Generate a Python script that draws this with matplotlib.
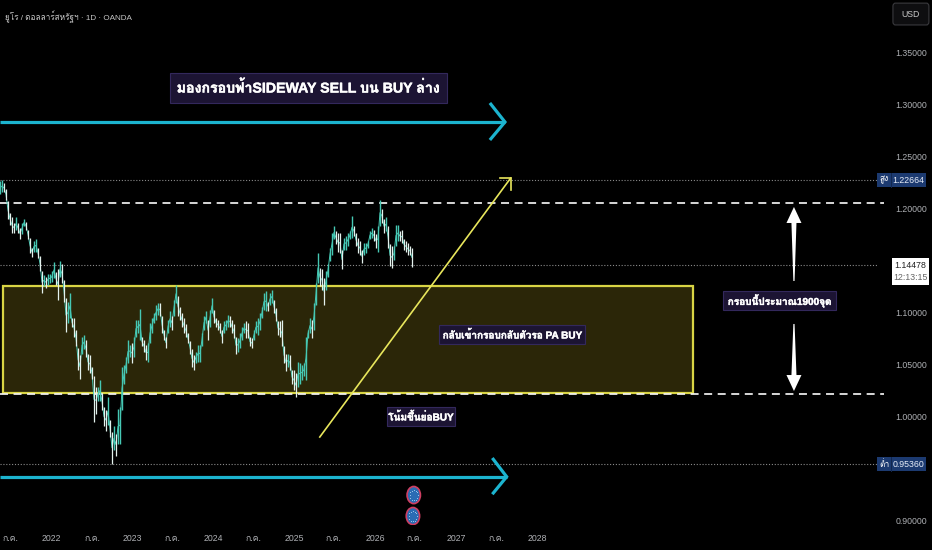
import numpy as np
import matplotlib
matplotlib.use("Agg")
import matplotlib.pyplot as plt
import matplotlib.font_manager as fm
import matplotlib.patheffects as pe
from matplotlib.patches import Rectangle, Ellipse, Polygon, FancyBboxPatch

# ---------- find Thai capable fonts ----------
thai_fonts = []
for f in fm.fontManager.ttflist:
    try:
        if 0x0E01 in fm.get_font(f.fname).get_charmap() and f.name not in thai_fonts:
            thai_fonts.append(f.name)
    except Exception:
        pass
NARROW = ["Liberation Sans"] + thai_fonts + ["DejaVu Sans"]
LABEL = ["Liberation Sans"] + thai_fonts + ["DejaVu Sans"]

# ---------- data ----------
start_year = 2021.362
bar_step = 0.02469
lows = [1.213,1.215,1.215,1.208,1.189,1.184,1.176,1.176,1.179,1.176,1.170,1.175,1.183,1.179,1.170,1.157,1.153,1.158,1.158,1.152,
1.139,1.118,1.125,1.123,1.126,1.128,1.129,1.133,1.126,1.112,1.134,1.128,1.110,1.081,1.089,1.094,1.086,1.076,1.067,1.044,
1.036,1.060,1.064,1.057,1.044,1.041,1.036,0.994,1.002,1.014,1.014,1.006,0.990,0.986,0.991,0.980,0.954,0.967,0.962,0.973,
0.973,1.006,1.031,1.041,1.051,1.057,1.051,1.057,1.076,1.080,1.073,1.067,1.062,1.054,1.052,1.070,1.080,1.089,1.092,1.097,
1.096,1.080,1.073,1.065,1.080,1.086,1.083,1.096,1.109,1.096,1.092,1.086,1.080,1.076,1.070,1.060,1.047,1.044,1.051,1.052,
1.052,1.067,1.083,1.089,1.073,1.086,1.099,1.089,1.086,1.083,1.080,1.070,1.080,1.083,1.086,1.086,1.080,1.075,1.060,1.062,
1.065,1.073,1.080,1.075,1.075,1.067,1.065,1.073,1.080,1.078,1.083,1.094,1.102,1.101,1.101,1.107,1.109,1.099,1.091,1.078,
1.076,1.067,1.051,1.043,1.047,1.044,1.031,1.025,1.018,1.028,1.031,1.035,1.038,1.035,1.075,1.080,1.075,1.083,1.107,1.128,
1.125,1.121,1.107,1.121,1.134,1.149,1.155,1.170,1.165,1.158,1.157,1.141,1.160,1.160,1.163,1.170,1.171,1.173,1.163,1.157,
1.155,1.147,1.155,1.157,1.162,1.170,1.171,1.168,1.162,1.158,1.183,1.186,1.176,1.178,1.162,1.144,1.142,1.150,1.163,1.168,
1.168,1.166,1.160,1.158,1.155,1.155,1.143]
highs = [1.226,1.227,1.224,1.218,1.207,1.195,1.191,1.186,1.191,1.186,1.181,1.186,1.189,1.187,1.179,1.171,1.162,1.168,1.170,1.162,
1.154,1.139,1.136,1.134,1.137,1.137,1.139,1.148,1.138,1.141,1.149,1.146,1.131,1.113,1.110,1.118,1.094,1.094,1.083,1.065,
1.059,1.076,1.078,1.073,1.060,1.059,1.047,1.038,1.028,1.028,1.035,1.022,1.009,1.006,1.018,0.996,0.985,0.990,0.983,1.007,
1.009,1.047,1.049,1.057,1.073,1.068,1.070,1.076,1.092,1.092,1.103,1.076,1.073,1.068,1.070,1.089,1.094,1.099,1.107,1.109,
1.109,1.096,1.083,1.076,1.092,1.101,1.096,1.112,1.126,1.115,1.105,1.099,1.094,1.088,1.080,1.072,1.064,1.059,1.062,1.068,
1.068,1.080,1.096,1.101,1.092,1.102,1.113,1.102,1.094,1.092,1.089,1.083,1.091,1.092,1.097,1.096,1.092,1.088,1.076,1.075,
1.080,1.086,1.089,1.091,1.089,1.076,1.075,1.083,1.091,1.094,1.099,1.105,1.118,1.120,1.110,1.118,1.121,1.112,1.104,1.091,
1.091,1.092,1.067,1.060,1.060,1.059,1.044,1.044,1.041,1.052,1.051,1.049,1.051,1.076,1.083,1.094,1.092,1.109,1.128,1.157,
1.142,1.141,1.133,1.139,1.146,1.162,1.176,1.183,1.178,1.176,1.176,1.160,1.171,1.173,1.176,1.178,1.192,1.183,1.176,1.171,
1.168,1.160,1.166,1.166,1.168,1.178,1.181,1.179,1.175,1.183,1.208,1.199,1.189,1.191,1.183,1.165,1.163,1.163,1.184,1.184,
1.178,1.179,1.170,1.168,1.166,1.163,1.162]
assert len(lows) == len(highs), (len(lows), len(highs))

price_ticks = [0.90, 1.00, 1.05, 1.10, 1.15, 1.20, 1.25, 1.30, 1.35]
year_ticks = [2022, 2023, 2024, 2025, 2026, 2027, 2028]
july_ticks = [2021.49, 2022.50, 2023.49, 2024.49, 2025.48, 2026.48, 2027.49]
YEAR_LABELS = ["2022", "2023", "2024", "2025", "2026", "2027", "2028"]
JULY_LABEL = "ก.ค."

high_price = 1.22664
low_price = 0.95360
last_price = 1.14478
countdown = "12:13:15"
upper_dash = 1.2048
lower_dash = 1.0208
zone_x = [2021.399, 2029.917]
zone_y = [1.0221, 1.1250]
x_left, x_right = 2021.362, 2032.288
dash_end = 2032.276
dot_end = 2032.19

cyan_top_y, cyan_bot_y = 1.2827, 0.9416
cyan_top_end, cyan_bot_end = 2027.596, 2027.617
cyan_top_wing = (2027.41, 1.3010, 1.2654)
cyan_bot_wing = (2027.44, 0.9596, 0.9248)
yellow_x = [2025.31, 2027.667]
yellow_y = [0.9798, 1.2288]
yellow_wing_x = [2027.534, 2027.667, 2027.667]
yellow_wing_y = [1.2288, 1.2288, 1.2173]
white_x = 2031.164
up_arrow = (1.2010, 1.1856, 1.1298)
down_arrow = (1.0885, 1.0394, 1.0240)

event_x = [2026.47, 2026.46]
event_y = [0.9240, 0.9038]

texts = [
    ("มองกรอบฟ้าSIDEWAY SELL บน BUY ล่าง", 2023.460, 2026.880, 1.3010, 1.3298, 10.2),
    ("กลับเข้ากรอบกลับตัวรอ PA BUY", 2026.781, 2028.584, 1.0692, 1.0875, 7.2),
    ("โน้มขึ้นย่อBUY", 2026.140, 2026.979, 0.9904, 1.0087, 7.2),
    ("กรอบนี้ประมาณ1900จุด", 2030.287, 2031.682, 1.1019, 1.1202, 7.2),
]

TICK_FS = 6.3

# ---------- figure ----------
fig = plt.figure(figsize=(9.32, 5.5), dpi=100, facecolor="black")
ax = fig.add_axes([0, 25 / 550, 885 / 932, 525 / 550], facecolor="black")
ax.set_xlim(x_left, x_right)
ax.set_ylim(0.8952, 1.4)
for s in ax.spines.values():
    s.set_visible(False)

ax.yaxis.tick_right()
ax.set_yticks(price_ticks, [f"{p:.5f}" for p in price_ticks], family=NARROW, fontsize=TICK_FS, color="#aeb0b4")
ax.set_xticks(year_ticks + july_ticks, YEAR_LABELS + [JULY_LABEL] * len(july_ticks),
              family=NARROW, fontsize=TICK_FS, color="#aeb0b4")
ax.tick_params(axis="both", length=0)
ax.tick_params(axis="y", pad=7.6)
ax.tick_params(axis="x", pad=6.5)

# zone
ax.add_patch(Rectangle((zone_x[0], zone_y[0]), zone_x[1] - zone_x[0], zone_y[1] - zone_y[0],
                       facecolor="#2b2608", edgecolor="#d8d444", lw=1.6, zorder=1))
# reference lines
for p in (high_price, last_price, low_price):
    ax.plot([x_left, dot_end], [p, p], color="#8a8a8a", lw=0.8, ls=(0, (1, 1.6)), zorder=1.2)
for p in (upper_dash, lower_dash):
    ax.plot([x_left, dash_end], [p, p], color="#f2f2f2", lw=1.25, ls=(0, (4.6, 3.2)), zorder=1.5)

# price bars
bx = start_year + bar_step * np.arange(len(lows))
lo = np.array(lows)
hi = np.array(highs)
mid = (lo + hi) / 2
up = np.r_[True, mid[1:] >= mid[:-1]]
ax.plot(bx, mid, color="#46c8b4", lw=0.7, zorder=2.9)
ax.vlines(bx[up], lo[up], hi[up], color="#46c8b4", lw=1.0, zorder=3)
ax.vlines(bx[~up], lo[~up], hi[~up], color="#e4f2ee", lw=0.9, zorder=3)

# arrows
CY = "#1cb4cf"
for y, end, wing in ((cyan_top_y, cyan_top_end, cyan_top_wing), (cyan_bot_y, cyan_bot_end, cyan_bot_wing)):
    ax.plot([x_left, end], [y, y], color=CY, lw=2.3, zorder=4, solid_capstyle="butt")
    ax.plot([wing[0], end, wing[0]], [wing[1], y, wing[2]], color=CY, lw=2.3, zorder=4,
            solid_joinstyle="miter", solid_capstyle="butt")
ax.plot(yellow_x, yellow_y, color="#e8e65c", lw=1.2, zorder=4)
ax.plot(yellow_wing_x, yellow_wing_y, color="#e8e65c", lw=1.2, zorder=4, solid_joinstyle="miter")

head_half, neck_half, tail_half = 0.0926, 0.031, 0.0075
for tip, head, tail in (up_arrow, down_arrow[::-1]):
    ax.add_patch(Polygon([(white_x, tip), (white_x + head_half, head), (white_x + neck_half, head),
                          (white_x + tail_half, tail), (white_x - tail_half, tail),
                          (white_x - neck_half, head), (white_x - head_half, head)],
                         closed=True, facecolor="white", edgecolor="none", zorder=4))

# text boxes
bold = [pe.withStroke(linewidth=0.3, foreground="white")]
for label, x0, x1, y0, y1, size in texts:
    ax.add_patch(Rectangle((x0, y0), x1 - x0, y1 - y0, facecolor="#1c1433", edgecolor="#33285c", lw=0.8, zorder=5))
    ax.text((x0 + x1) / 2, (y0 + y1) / 2, label, family=LABEL, fontsize=size, fontweight="bold",
            color="white", ha="center", va="center", zorder=6, path_effects=bold)

# event icons
for x, y in zip(event_x, event_y):
    ax.add_patch(Ellipse((x, y), 0.165, 0.0165, facecolor="#2a6cb4", edgecolor="#cf3f62", lw=1.2, zorder=5))
    t = np.arange(0, 2 * np.pi, np.pi / 6)
    ax.scatter(x + 0.05 * np.cos(t), y + 0.005 * np.sin(t), s=0.6, color="#a8d0f0", linewidths=0, zorder=6)

# price tags
tag_x = (2032.19, 2032.363, 2032.795)
for p, name in ((high_price, "สูง"), (low_price, "ต่ำ")):
    ax.add_patch(Rectangle((tag_x[0], p - 0.0066), tag_x[2] - tag_x[0], 0.0132, facecolor="#1c3a70",
                           edgecolor="none", clip_on=False, zorder=7))
    ax.plot([tag_x[1], tag_x[1]], [p - 0.0066, p + 0.0066], color="#12284f", lw=0.7, clip_on=False, zorder=8)
    ax.text((tag_x[0] + tag_x[1]) / 2, p, name, family=LABEL, fontsize=6, color="white",
            ha="center", va="center", clip_on=False, zorder=8)
    ax.text((tag_x[1] + tag_x[2]) / 2, p, f"{p:.5f}", family=NARROW, fontsize=TICK_FS, color="#e8eef8",
            ha="center", va="center", clip_on=False, zorder=8)

ax.add_patch(Rectangle((2032.373, 1.1260), 0.457, 0.0259, facecolor="white", edgecolor="none",
                       clip_on=False, zorder=7))
ax.text(2032.60, last_price, f"{last_price:.5f}", family=NARROW, fontsize=TICK_FS, color="#222222",
        ha="center", va="center", clip_on=False, zorder=8)
ax.text(2032.60, 1.1328, countdown, family=NARROW, fontsize=TICK_FS, color="#666666",
        ha="center", va="center", clip_on=False, zorder=8)

# USD button
ax.add_patch(FancyBboxPatch((2032.386, 1.376), 0.444, 0.021, boxstyle="round,pad=0,rounding_size=0.03",
                            mutation_aspect=0.1, facecolor="#0e0e10", edgecolor="#3a3a3e", lw=0.8,
                            clip_on=False, zorder=7))
ax.text(2032.608, 1.3865, "USD", family=NARROW, fontsize=TICK_FS, color="#c8c8c8",
        ha="center", va="center", clip_on=False, zorder=8)

fig.text(5 / 932, 1 - 17 / 550, "ยูโร / ดอลลาร์สหรัฐฯ · 1D · OANDA", family=LABEL,
         fontsize=5.9, color="#c4c4c4", ha="left", va="center")

fig.savefig("out.png", dpi=100, facecolor="black")
